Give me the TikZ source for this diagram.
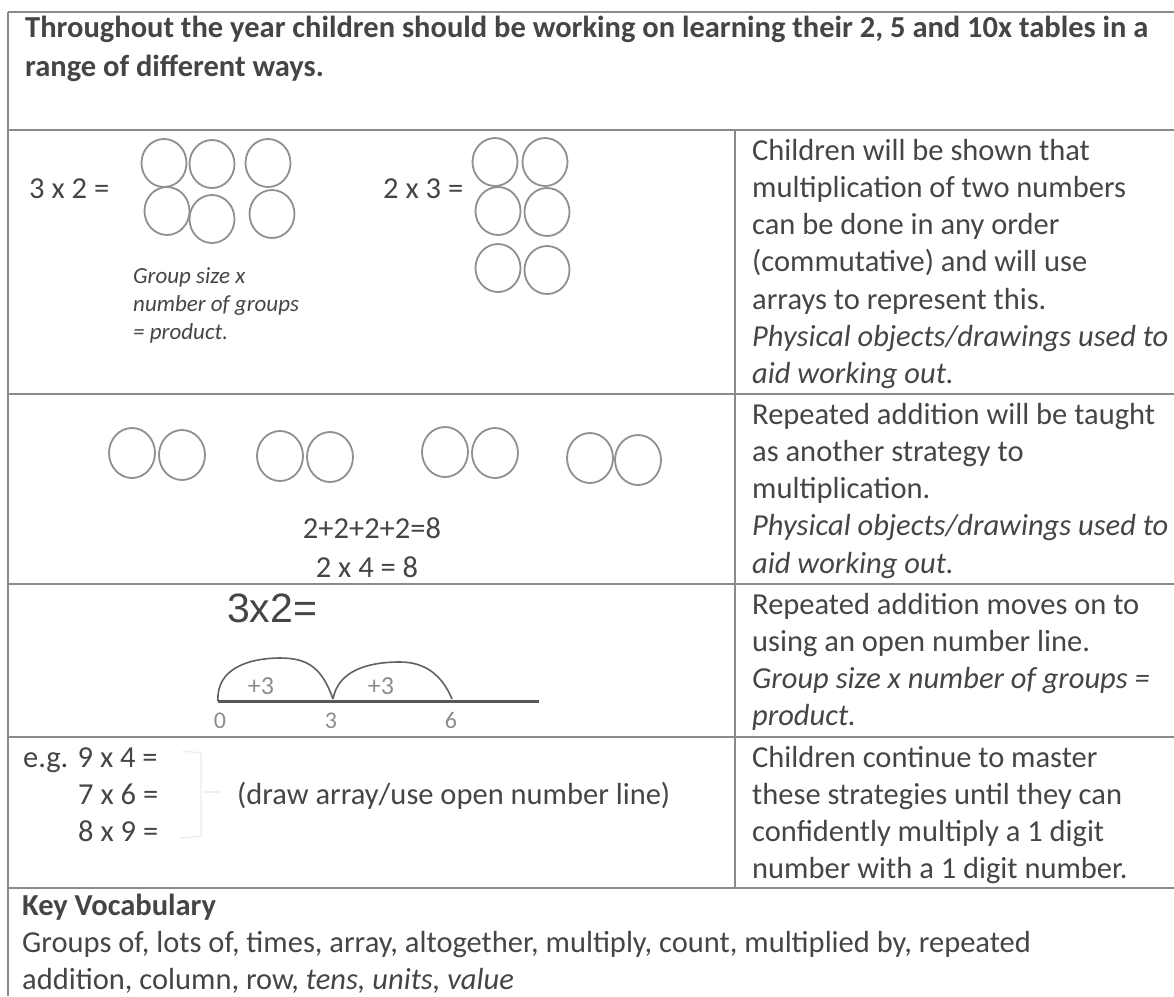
\documentclass[tikz,border=0pt]{standalone}
\usepackage{fontspec}
\setmainfont{Carlito}
\newfontfamily\arialf{Liberation Sans}
\definecolor{txtc}{HTML}{454545}
\definecolor{linec}{HTML}{8A8A8A}
\definecolor{circc}{HTML}{8F8F8F}
\definecolor{handc}{HTML}{8C8C8C}
\definecolor{faintc}{HTML}{EEEEEE}
\tikzset{
  rule/.style={draw=linec, line width=2.4pt},
  txt/.style={inner sep=0pt, anchor=base west, text=txtc, font=\fontsize{30.5}{37.3}\selectfont},
  itxt/.style={txt, font=\fontsize{30.5}{37.3}\selectfont\itshape},
  btxt/.style={txt, font=\fontsize{30.5}{37.3}\selectfont\bfseries},
  ctxt/.style={txt, anchor=base},
  smit/.style={txt, font=\fontsize{23}{28}\selectfont\itshape},
  hand/.style={inner sep=0pt, anchor=base, text=handc, font=\fontsize{24}{26}\selectfont},
  bub/.style={draw=circc, line width=1.8pt},
  arcln/.style={draw=txtc!85, line width=1.6pt},
}
\begin{document}
\begin{tikzpicture}[x=1pt,y=-1pt]
\useasboundingbox (0,0) rectangle (1174,996);
% table rules
\draw[rule] (8,12) -- (1174,12);
\draw[rule] (8,12) -- (8,996);
\draw[rule] (8,130) -- (1174,130);
\draw[rule] (8,394) -- (1174,394);
\draw[rule] (8,584) -- (1174,584);
\draw[rule] (8,737) -- (1174,737);
\draw[rule] (8,888) -- (1174,888);
\draw[rule] (735,130) -- (735,888);
% header
\node[btxt] (h1) at (25,37) {Throughout the year children should be working on learning their 2, 5 and 10x tables in a};
\node[btxt] (h2) at (25,76) {range of different ways.};
% row 1 left
\node[txt] (e32) at (29,198) {3 x 2 =};
\node[txt] (e23) at (383,198) {2 x 3 =};
\foreach \cx/\cy in {164/163,212/164,268/163,167/211,212/219,272/214}
  \draw[bub] (\cx,\cy) ellipse [x radius=22.5pt, y radius=24pt];
\foreach \cx/\cy in {495/162,545/162,498/211,547/212,498/268,547/270}
  \draw[bub] (\cx,\cy) ellipse [x radius=22.5pt, y radius=24pt];
\node[smit] (g1) at (133,283) {Group size x};
\node[smit] (g2) at (133,311) {number of groups};
\node[smit] (g3) at (133,339) {= product.};
% row 1 right
\node[txt] (r1a) at (752,160) {Children will be shown that};
\node[txt] (r1b) at (752,197.3) {multiplication of two numbers};
\node[txt] (r1c) at (752,234.6) {can be done in any order};
\node[txt] (r1d) at (752,271.9) {(commutative) and will use};
\node[txt] (r1e) at (752,309.2) {arrays to represent this.};
\node[itxt] (r1f) at (752,346.5) {Physical objects/drawings used to};
\node[itxt] (r1g) at (752,383.8) {aid working out.};
% row 2 left
\foreach \cx/\cy in {132/453,182/455,280/456,330/457,445/452,495/453,590/458,638/460}
  \draw[bub] (\cx,\cy) ellipse [x radius=23pt, y radius=25pt];
\node[ctxt] (s1) at (372,538) {2+2+2+2=8};
\node[ctxt] (s2) at (367,577) {2 x 4 = 8};
% row 2 right
\node[txt] (r2a) at (752,424) {Repeated addition will be taught};
\node[txt] (r2b) at (752,461.3) {as another strategy to};
\node[txt] (r2c) at (752,498.6) {multiplication.};
\node[itxt] (r2d) at (752,535.9) {Physical objects/drawings used to};
\node[itxt] (r2e) at (752,573.2) {aid working out.};
% row 3 left
\node[txt, font=\arialf\fontsize{41}{45}\selectfont] (m32) at (227,622) {3x2=};
\coordinate (n0) at (218,701);
\coordinate (n3) at (333,699);
\coordinate (n6) at (452,699);
\coordinate (nend) at (539,701);
\draw[draw=txtc!90, line width=3pt] (n0) -- (nend);
\draw[arcln] (n0) .. controls (216,668) and (250,658) .. (280,658)
   .. controls (308,658) and (322,668) .. (n3);
\draw[arcln] (n3) .. controls (338,672) and (365,662) .. (400,662)
   .. controls (425,662) and (442,675) .. (n6);
\node[hand, font=\fontsize{26}{28}\selectfont] (p1) at (261,694) {+3};
\node[hand, font=\fontsize{26}{28}\selectfont] (p2) at (381,694) {+3};
\node[hand] (l0) at (220,728) {0};
\node[hand] (l3) at (331,728) {3};
\node[hand] (l6) at (451,728) {6};
% row 3 right
\node[txt] (r3a) at (752,614) {Repeated addition moves on to};
\node[txt] (r3b) at (752,651.3) {using an open number line.};
\node[itxt] (r3c) at (752,688.6) {Group size x number of groups =};
\node[itxt] (r3d) at (752,725.9) {product.};
% row 4 left
\node[txt] (q1) at (23,767) {e.g. 9 x 4 =};
\node[txt] (q2) at (78,804) {7 x 6 =};
\node[txt] (q3) at (78,841) {8 x 9 =};
\draw[draw=faintc, line width=1.5pt] (183,751) -- (201,753) -- (201,836) -- (181,838);
\draw[draw=faintc, line width=1.5pt] (205,792) -- (219,792);
\node[txt] (q4) at (237,804) {(draw array/use open number line)};
% row 4 right
\node[txt] (r4a) at (752,767) {Children continue to master};
\node[txt] (r4b) at (752,804) {these strategies until they can};
\node[txt] (r4c) at (752,841) {confidently multiply a 1 digit};
\node[txt] (r4d) at (752,878) {number with a 1 digit number.};
% row 5
\node[btxt] (k1) at (22,915) {Key Vocabulary};
\node[txt] (k2) at (22,952) {Groups of, lots of, times, array, altogether, multiply, count, multiplied by, repeated};
\node[txt] (k3) at (22,989) {addition, column, row, \textit{tens, units, value}};
\end{tikzpicture}
\end{document}
